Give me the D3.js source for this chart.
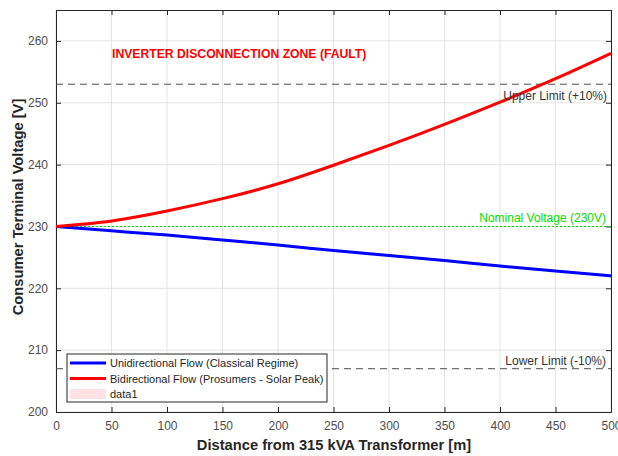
<!DOCTYPE html>
<html>
<head>
<meta charset="utf-8">
<script src="https://cdn.jsdelivr.net/npm/d3@7"></script>
<style>
body { margin: 0; background: #fff; }
text { font-family: Arial, "Liberation Sans", sans-serif; }
</style>
</head>
<body>
<svg id="chart" width="618" height="456"></svg>
<script>
// distance along the feeder [m]
var distance = [0, 50, 100, 150, 200, 250, 300, 350, 400, 450, 500]
var unidirectional = [230.0, 229.3, 228.6, 227.8, 227.0, 226.1, 225.3, 224.5, 223.6, 222.8, 222.0]
var bidirectional = [230.0, 230.9, 232.5, 234.5, 236.9, 239.9, 243.1, 246.5, 250.1, 253.9, 258.0]
var xTicks = [0, 50, 100, 150, 200, 250, 300, 350, 400, 450, 500]
var yTicks = [200, 210, 220, 230, 240, 250, 260]
var limits = { upper: 253, nominal: 230, lower: 207 }
var legendItems = [
    { label: "Unidirectional Flow (Classical Regime)", kind: "line", color: "#0000ff" },
    { label: "Bidirectional Flow (Prosumers - Solar Peak)", kind: "line", color: "#ff0000" },
    { label: "data1", kind: "patch", color: "#ffe0e3" }
]

var svg = d3.select("#chart")
var pLeft = 56, pRight = 611, pTop = 10, pBottom = 412

var x = d3.scaleLinear().domain([0, 500]).range([pLeft, pRight])
var y = d3.scaleLinear().domain([200, 265]).range([pBottom, pTop])

// grid
var grid = svg.append("g")
grid.selectAll("line.gx").data(xTicks).enter().append("line")
    .attr("x1", function(d) { return x(d) }).attr("x2", function(d) { return x(d) })
    .attr("y1", pTop).attr("y2", pBottom)
    .attr("stroke", "#e3e3e3").attr("stroke-width", 1)
grid.selectAll("line.gy").data(yTicks).enter().append("line")
    .attr("x1", pLeft).attr("x2", pRight)
    .attr("y1", function(d) { return y(d) }).attr("y2", function(d) { return y(d) })
    .attr("stroke", "#e3e3e3").attr("stroke-width", 1)

// axes (MATLAB style: ticks inside, box on)
var axisColor = "#262626"
var xAxis = svg.append("g").attr("transform", "translate(0," + pBottom + ")")
    .call(d3.axisBottom(x).tickValues(xTicks).tickSize(-5).tickPadding(9).tickSizeOuter(0))
var yAxis = svg.append("g").attr("transform", "translate(" + pLeft + ",0)")
    .call(d3.axisLeft(y).tickValues(yTicks).tickSize(-5).tickPadding(8).tickSizeOuter(0))
var xTop = svg.append("g").attr("transform", "translate(0," + pTop + ")")
    .call(d3.axisTop(x).tickValues(xTicks).tickSize(-5).tickFormat("").tickSizeOuter(0))
var yRight = svg.append("g").attr("transform", "translate(" + pRight + ",0)")
    .call(d3.axisRight(y).tickValues(yTicks).tickSize(-5).tickFormat("").tickSizeOuter(0))
;[xAxis, yAxis, xTop, yRight].forEach(function(a) {
    a.selectAll("path").attr("stroke", axisColor)
    a.selectAll("line").attr("stroke", axisColor)
    a.selectAll("text").attr("fill", "#4d4d4d").style("font-size", "12px").style("font-family", "Arial, 'Liberation Sans', sans-serif")
})

// reference lines
function hline(v, color, dash) {
    svg.append("line")
        .attr("x1", pLeft).attr("x2", pRight)
        .attr("y1", y(v)).attr("y2", y(v))
        .attr("stroke", color).attr("stroke-width", 1)
        .attr("stroke-dasharray", dash)
}
hline(limits.upper, "#4d4d4d", "7,5")
hline(limits.lower, "#4d4d4d", "7,5")
hline(limits.nominal, "#00e000", "2,2")

// series
var line = d3.line()
    .x(function(d, i) { return x(distance[i]) })
    .y(function(d) { return y(d) })
    .curve(d3.curveNatural)
svg.append("path").datum(unidirectional)
    .attr("d", line).attr("fill", "none").attr("stroke", "#0000ff").attr("stroke-width", 3)
svg.append("path").datum(bidirectional)
    .attr("d", line).attr("fill", "none").attr("stroke", "#ff0000").attr("stroke-width", 3)

// annotations
svg.append("text").attr("x", 112).attr("y", 58)
    .style("font-size", "12.2px").style("font-weight", "bold").attr("fill", "#ff0000")
    .text("INVERTER DISCONNECTION ZONE (FAULT)")
svg.append("text").attr("x", 607).attr("y", 100).attr("text-anchor", "end")
    .style("font-size", "12px").attr("fill", "#333")
    .text("Upper Limit (+10%)")
svg.append("text").attr("x", 606).attr("y", 222).attr("text-anchor", "end")
    .style("font-size", "12px").attr("fill", "#00e000")
    .text("Nominal Voltage (230V)")
svg.append("text").attr("x", 606).attr("y", 365).attr("text-anchor", "end")
    .style("font-size", "12px").attr("fill", "#333")
    .text("Lower Limit (-10%)")

// axis titles
svg.append("text").attr("x", 334).attr("y", 450).attr("text-anchor", "middle")
    .style("font-size", "14.7px").style("font-weight", "bold").attr("fill", "#262626")
    .text("Distance from 315 kVA Transformer [m]")
svg.append("text").attr("transform", "translate(23,207) rotate(-90)")
    .attr("text-anchor", "middle")
    .style("font-size", "14.7px").style("font-weight", "bold").attr("fill", "#262626")
    .text("Consumer Terminal Voltage [V]")

// legend
var lg = svg.append("g").attr("transform", "translate(67,354)")
lg.append("rect").attr("width", 260).attr("height", 48)
    .attr("fill", "#fff").attr("stroke", "#262626").attr("stroke-width", 1)
var rows = lg.selectAll("g").data(legendItems).enter().append("g")
    .attr("transform", function(d, i) { return "translate(3," + (9 + i * 15.5) + ")" })
rows.each(function(d) {
    var el = d3.select(this)
    if (d.kind == "line") {
        el.append("line").attr("x1", 0).attr("x2", 36).attr("y1", 0).attr("y2", 0)
            .attr("stroke", d.color).attr("stroke-width", 3)
    } else {
        el.append("rect").attr("x", 0).attr("y", -5).attr("width", 36).attr("height", 10)
            .attr("fill", d.color)
    }
    el.append("text").attr("x", 40).attr("y", 4)
        .style("font-size", "11px").attr("fill", "#262626")
        .text(d.label)
})
</script>
</body>
</html>
